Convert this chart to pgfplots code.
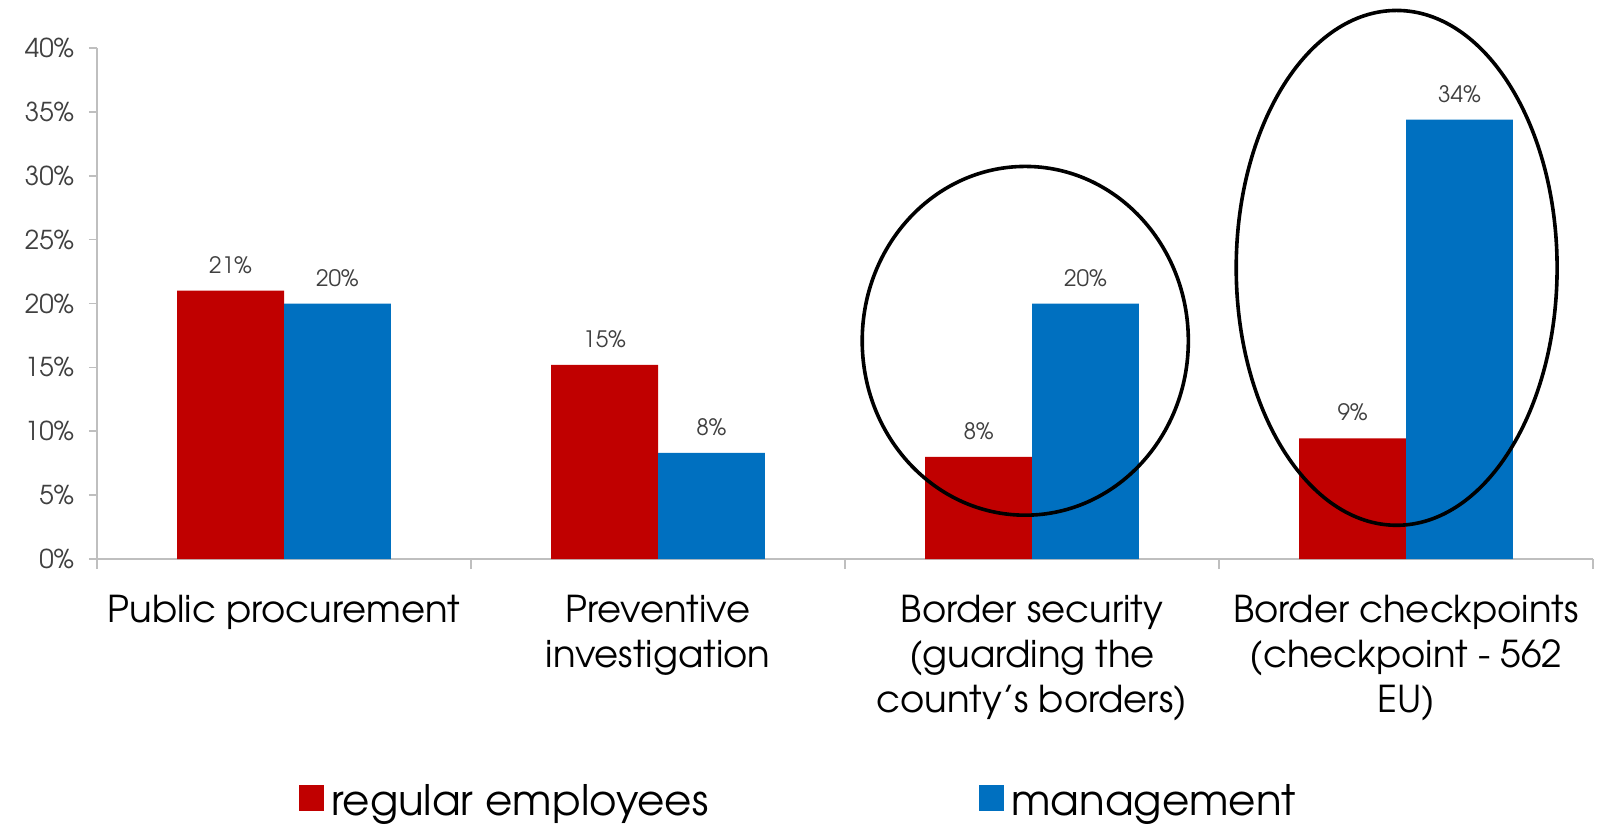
\documentclass[border=0pt]{standalone}
\usepackage{fontspec}
\setmainfont{TeX Gyre Adventor}
\usepackage{pgfplots}
\usepackage{pgfplotstable}
\pgfplotsset{compat=1.18}
\definecolor{cred}{HTML}{C00000}
\definecolor{cblue}{HTML}{0070C0}
\definecolor{axgray}{HTML}{BFBFBF}
\definecolor{txtgray}{HTML}{404040}

\pgfplotstableread{
x y lab
0 21.0 21\%
1 15.2 15\%
2 8.0 8\%
3 9.45 9\%
}\regular
\pgfplotstableread{
x y lab
0 20.0 20\%
1 8.3 8\%
2 20.0 20\%
3 34.4 34\%
}\management

\begin{document}
\begin{tikzpicture}
\path[use as bounding box] (-48.5pt,-133pt) rectangle (751pt,279.5pt);
\begin{axis}[
  at={(0pt,0pt)}, anchor=south west,
  scale only axis, width=748pt, height=255.5pt,
  xmin=-0.5, xmax=3.5, ymin=0, ymax=40,
  enlargelimits=false, clip=false,
  ybar, bar width=0.286,
  axis x line*=bottom, axis y line*=left,
  axis line style={axgray, line width=0.8pt},
  tick style={axgray, line width=0.8pt},
  tick align=outside,
  major tick length=4pt, minor tick length=5pt,
  ytick={0,5,...,40},
  yticklabel={\pgfmathprintnumber{\tick}\%},
  /pgf/number format/assume math mode=true,
  y tick label style={font=\fontsize{13}{15}\selectfont, text=txtgray, xshift=-4pt},
  xtick={0,1,2,3},
  major x tick style={draw=none},
  minor xtick={-0.5,0.5,1.5,2.5,3.5},
  xticklabels={Public procurement, Preventive\\investigation, Border security\\(guarding the\\county’s borders), Border checkpoints\\(checkpoint - 562\\EU)},
  x tick label style={font=\fontsize{18.5}{22.5}\selectfont, text=black, align=center, anchor=north, yshift=-10.5pt},
  nodes near coords,
  point meta=explicit symbolic,
  every node near coord/.append style={font=\fontsize{11.3}{13}\selectfont, text=txtgray, yshift=5pt},
  legend style={at={(0.135,-0.474)}, anchor=west, draw=none, fill=none,
     legend columns=2, inner sep=0pt, nodes={inner sep=0pt},
     font=\fontsize{21}{25}\selectfont},
  legend image code/.code={\fill[#1] (0pt,-5pt) rectangle (12.5pt,8pt);},
]
\addplot[fill=cred, draw=none, bar shift=-0.143] table[x=x, y=y, meta=lab] {\regular};
\addlegendentry{\hspace*{3.5pt}\makebox[324pt][l]{regular employees}}
\addplot[fill=cblue, draw=none, bar shift=0.143] table[x=x, y=y, meta=lab] {\management};
\addlegendentry{\hspace*{3.5pt}management}
\draw[black, line width=1.8pt] (axis cs:1.982,17.08) ellipse [x radius=0.436, y radius=13.65];
\draw[black, line width=1.8pt] (axis cs:2.975,22.79) ellipse [x radius=0.429, y radius=20.15];
\end{axis}
\end{tikzpicture}
\end{document}
